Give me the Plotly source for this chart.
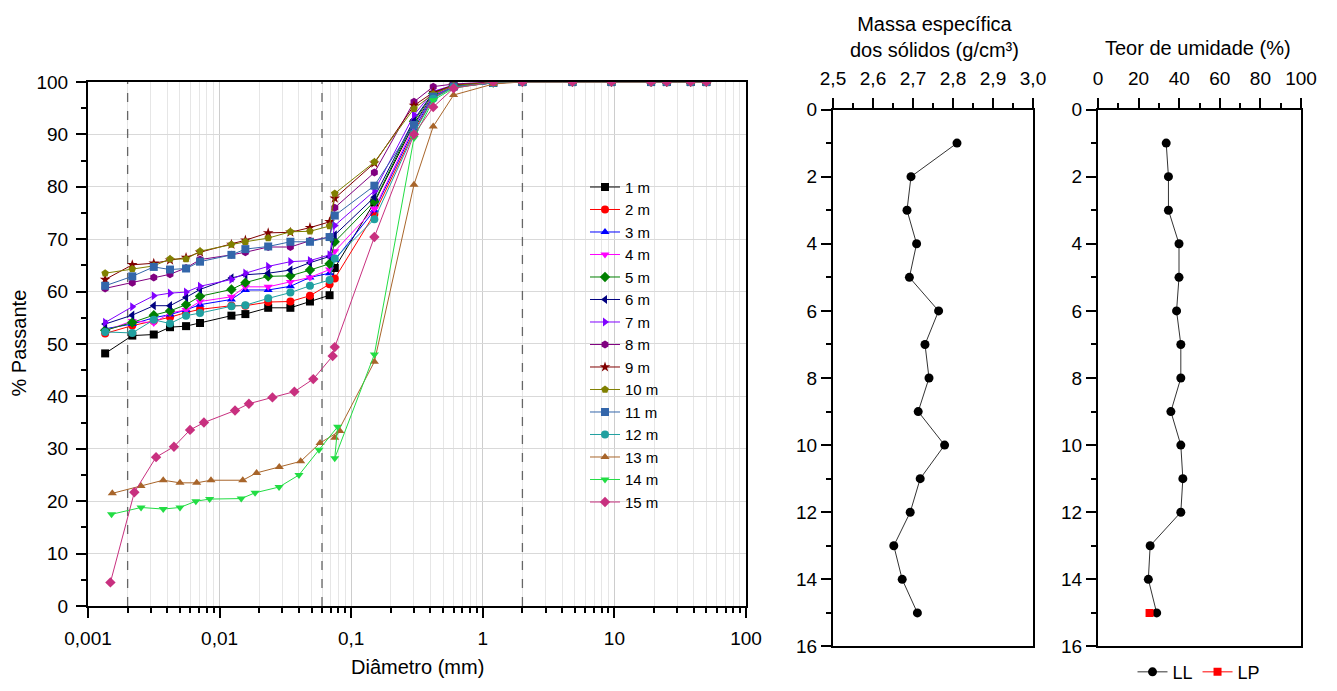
import plotly.graph_objects as go

# ---------------- DATA ----------------
series_names = ["1 m", "2 m", "3 m", "4 m", "5 m", "6 m", "7 m", "8 m",
                "9 m", "10 m", "11 m", "12 m", "13 m", "14 m", "15 m"]

sieve_d = [0.075, 0.15, 0.3, 0.42, 0.6, 1.2, 2.0, 4.8, 9.5, 19, 25, 38, 50]

hydro_d_upper = [0.00135, 0.00217, 0.00316, 0.0042, 0.00556, 0.0071,
                 0.0123, 0.0157, 0.0234, 0.0345, 0.0486, 0.0685]
hydro_d_13 = [0.00153, 0.00253, 0.00373, 0.0050, 0.0067, 0.0086,
              0.0150, 0.0191, 0.0284, 0.0413, 0.058, 0.082]
hydro_d_14 = [0.00151, 0.00253, 0.00373, 0.0050, 0.0066, 0.0084,
              0.0146, 0.0186, 0.0283, 0.0401, 0.0569, 0.0789]
hydro_d_15 = [0.00148, 0.00225, 0.00329, 0.0045, 0.00596, 0.0076,
              0.0131, 0.0167, 0.0252, 0.037, 0.0515, 0.0723]

hydro_p = {
    "1 m": [48.2, 51.6, 51.8, 53.2, 53.4, 54.0, 55.4, 55.7, 56.9, 56.9, 58.1, 59.3],
    "2 m": [52.0, 53.5, 54.4, 55.1, 56.0, 56.6, 57.3, 57.3, 58.0, 58.1, 59.2, 61.4],
    "3 m": [52.9, 53.8, 55.0, 55.6, 56.5, 57.5, 58.5, 60.3, 60.3, 61.0, 62.7, 63.5],
    "4 m": [52.5, 54.4, 54.0, 55.9, 56.5, 58.1, 59.0, 60.9, 60.9, 61.8, 62.7, 64.2],
    "5 m": [52.6, 54.1, 55.5, 56.3, 57.5, 59.1, 60.4, 61.7, 62.9, 63.0, 64.1, 65.3],
    "6 m": [53.8, 55.5, 57.3, 57.3, 58.9, 60.4, 62.6, 63.2, 63.5, 64.1, 65.5, 66.7],
    "7 m": [54.1, 57.1, 59.2, 59.7, 59.9, 61.0, 62.3, 63.5, 64.8, 65.7, 65.9, 67.0],
    "8 m": [60.6, 61.7, 62.7, 63.3, 64.5, 66.1, 67.0, 67.5, 68.5, 68.5, 69.7, 70.4],
    "9 m": [62.3, 65.1, 65.4, 66.0, 66.5, 67.5, 69.0, 69.8, 71.2, 71.3, 72.2, 73.3],
    "10 m": [63.5, 64.3, 64.9, 66.2, 66.2, 67.7, 69.0, 69.5, 70.2, 71.4, 71.5, 72.5],
    "11 m": [61.1, 62.9, 64.7, 64.2, 64.4, 65.7, 67.0, 68.1, 68.6, 69.5, 69.5, 70.4],
    "12 m": [52.3, 52.1, 54.6, 53.9, 55.4, 55.9, 57.2, 57.4, 58.7, 59.8, 61.1, 62.2],
    "13 m": [21.5, 22.9, 24.0, 23.5, 23.5, 24.0, 24.0, 25.4, 26.5, 27.6, 31.1, 33.4],
    "14 m": [17.5, 18.8, 18.5, 18.8, 20.0, 20.4, 20.5, 21.6, 22.7, 25.0, 29.8, 34.2],
    "15 m": [4.5, 21.7, 28.4, 30.4, 33.6, 35.0, 37.3, 38.6, 39.8, 40.9, 43.3, 47.7],
}

sieve_p = {
    "1 m": [64.5, 77.0, 92.0, 97.5, 99.2, 99.8, 100, 100, 100, 100, 100, 100, 100],
    "2 m": [62.5, 74.8, 90.5, 97.0, 99.0, 99.8, 100, 100, 100, 100, 100, 100, 100],
    "3 m": [66.0, 75.5, 91.0, 97.3, 99.1, 99.8, 100, 100, 100, 100, 100, 100, 100],
    "4 m": [67.7, 75.8, 91.5, 97.5, 99.2, 99.8, 100, 100, 100, 100, 100, 100, 100],
    "5 m": [69.5, 77.2, 92.5, 97.8, 99.3, 99.9, 100, 100, 100, 100, 100, 100, 100],
    "6 m": [70.8, 78.0, 92.8, 98.0, 99.3, 99.9, 100, 100, 100, 100, 100, 100, 100],
    "7 m": [72.6, 79.2, 93.7, 98.2, 99.4, 99.9, 100, 100, 100, 100, 100, 100, 100],
    "8 m": [76.0, 82.7, 96.2, 99.1, 99.6, 100, 100, 100, 100, 100, 100, 100, 100],
    "9 m": [77.8, 84.5, 95.5, 98.0, 99.4, 99.9, 100, 100, 100, 100, 100, 100, 100],
    "10 m": [78.7, 84.7, 94.9, 97.7, 99.3, 99.9, 100, 100, 100, 100, 100, 100, 100],
    "11 m": [74.5, 80.2, 91.8, 97.2, 99.1, 99.8, 100, 100, 100, 100, 100, 100, 100],
    "12 m": [66.3, 73.8, 90.2, 96.8, 99.0, 99.8, 100, 100, 100, 100, 100, 100, 100],
    "13 m": [32.1, 46.6, 80.4, 91.5, 97.5, 99.6, 100, 100, 100, 100, 100, 100, 100],
    "14 m": [28.2, 48.0, 89.3, 96.5, 98.8, 100, 100, 100, 100, 100, 100, 100, 100],
    "15 m": [49.4, 70.4, 90.0, 95.2, 98.8, 100, 100, 100, 100, 100, 100, 100, 100],
}

limit_d = [0.002, 0.06, 2.0]

x_tickvals = [0.001, 0.01, 0.1, 1, 10, 100]
x_ticktext = ["0,001", "0,01", "0,1", "1", "10", "100"]

depth = [1, 2, 3, 4, 5, 6, 7, 8, 9, 10, 11, 12, 13, 14, 15]
massa_especifica = [2.81, 2.695, 2.685, 2.709, 2.691, 2.764, 2.730, 2.740,
                    2.713, 2.779, 2.718, 2.693, 2.652, 2.673, 2.711]
teor_LL = [33.6, 34.7, 34.7, 39.9, 39.9, 38.7, 40.8, 40.8, 35.9, 40.8,
           41.8, 40.8, 25.7, 24.8, 28.9]
depth_LP = [15]
teor_LP = [25.4]

# ---------------- STYLE ----------------
colors = ["#000000", "#FF0000", "#0000FF", "#FF00FF", "#008000", "#000080",
          "#8000FF", "#800080", "#800000", "#808000", "#3366AA", "#20A0A0",
          "#A8652A", "#22DD44", "#C8307F"]
symbols = ["square", "circle", "triangle-up", "triangle-down", "diamond",
           "triangle-left", "triangle-right", "hexagon", "star", "pentagon",
           "square", "circle", "triangle-up", "triangle-down", "diamond"]

FONT = "Liberation Sans, Arial, sans-serif"
W, H = 1337, 691


def fx(p):
    return p / W


def fy(p):
    return (H - p) / H


def px_x(a, b):
    return [fx(a), fx(b)]


def px_y(top, bottom):
    return [fy(bottom), fy(top)]


fig = go.Figure()

# limit lines
for xd in limit_d:
    fig.add_trace(go.Scatter(x=[xd, xd], y=[0, 100], mode="lines",
                             line=dict(color="#666666", width=1.3, dash="dash"),
                             showlegend=False, hoverinfo="skip",
                             xaxis="x", yaxis="y"))

for i, name in enumerate(series_names):
    if name == "13 m":
        hd = hydro_d_13
    elif name == "14 m":
        hd = hydro_d_14
    elif name == "15 m":
        hd = hydro_d_15
    else:
        hd = hydro_d_upper
    xs = list(hd) + list(sieve_d)
    ys = list(hydro_p[name]) + list(sieve_p[name])
    fig.add_trace(go.Scatter(
        x=xs, y=ys, mode="lines+markers", name=name,
        line=dict(color=colors[i], width=1),
        marker=dict(symbol=symbols[i], color=colors[i], size=8,
                    line=dict(width=0)),
        xaxis="x", yaxis="y", legend="legend"))

# Massa específica
fig.add_trace(go.Scatter(x=massa_especifica, y=depth, mode="lines+markers",
                         line=dict(color="#333333", width=1),
                         marker=dict(symbol="circle", color="black", size=9),
                         showlegend=False, xaxis="x2", yaxis="y2"))

# Teor de umidade
fig.add_trace(go.Scatter(x=teor_LL, y=depth, mode="lines+markers", name="LL",
                         line=dict(color="#333333", width=1),
                         marker=dict(symbol="circle", color="black", size=9),
                         xaxis="x3", yaxis="y3", legend="legend2"))
fig.add_trace(go.Scatter(x=teor_LP, y=depth_LP, mode="lines+markers", name="LP",
                         line=dict(color="#FF0000", width=1),
                         marker=dict(symbol="square", color="#FF0000", size=8),
                         xaxis="x3", yaxis="y3", legend="legend2"))

tickfont = dict(family=FONT, size=19, color="black")
titlefont = dict(family=FONT, size=20, color="black")
minor_log = [m * 10 ** e for e in range(-3, 2) for m in range(2, 10)]

common_right = dict(ticks="outside", tickwidth=1.5, tickcolor="black",
                    showline=True, linecolor="black", linewidth=2, mirror=True,
                    showgrid=False, zeroline=False, tickfont=tickfont,
                    automargin=False)

fig.update_layout(
    width=W, height=H,
    margin=dict(l=0, r=0, t=0, b=0),
    paper_bgcolor="white", plot_bgcolor="white",
    separators=",.",
    font=dict(family=FONT, size=18, color="black"),
    xaxis=dict(type="log", range=[-3, 2], domain=px_x(88, 746), anchor="y",
               tickmode="array", tickvals=x_tickvals, ticktext=x_ticktext,
               ticks="outside", ticklen=10, tickwidth=1.5, tickcolor="black",
               ticklabelstandoff=4,
               showline=True, linecolor="black", linewidth=2, mirror=True,
               showgrid=True, gridcolor="#CDCDCD", gridwidth=1,
               minor=dict(tickvals=minor_log, ticks="outside", ticklen=5,
                          tickwidth=1.5, tickcolor="black",
                          showgrid=True, gridcolor="#E6E6E6", gridwidth=1),
               tickfont=tickfont, automargin=False, zeroline=False),
    yaxis=dict(range=[0, 100], domain=px_y(83, 614), anchor="x",
               tickmode="linear", tick0=0, dtick=10,
               ticks="outside", ticklen=10, tickwidth=1.5, tickcolor="black",
               ticklabelstandoff=4,
               showline=True, linecolor="black", linewidth=2, mirror=True,
               showgrid=True, gridcolor="#D9D9D9", gridwidth=1,
               minor=dict(dtick=5, ticks="outside", ticklen=5, tickwidth=1.5,
                          tickcolor="black", showgrid=False),
               tickfont=tickfont, automargin=False, zeroline=False),
    xaxis2=dict(range=[2.5, 3.0], domain=px_x(833, 1033), anchor="y2",
                side="top", tickmode="linear", tick0=2.5, dtick=0.1,
                tickformat=".1f", ticklen=10, ticklabelstandoff=5,
                minor=dict(dtick=0.05, ticks="outside", ticklen=5,
                           tickwidth=1.5, tickcolor="black"),
                **common_right),
    yaxis2=dict(range=[16, 0], domain=px_y(111, 655), anchor="x2",
                tickmode="linear", tick0=0, dtick=2, ticklen=10,
                minor=dict(dtick=1, ticks="outside", ticklen=5,
                           tickwidth=1.5, tickcolor="black"),
                **common_right),
    xaxis3=dict(range=[0, 100], domain=px_x(1098, 1301), anchor="y3",
                side="top", tickmode="linear", tick0=0, dtick=20,
                ticklen=10, ticklabelstandoff=5,
                minor=dict(dtick=10, ticks="outside", ticklen=5,
                           tickwidth=1.5, tickcolor="black"),
                **common_right),
    yaxis3=dict(range=[16, 0], domain=px_y(111, 655), anchor="x3",
                tickmode="linear", tick0=0, dtick=2, ticklen=10,
                minor=dict(dtick=1, ticks="outside", ticklen=5,
                           tickwidth=1.5, tickcolor="black"),
                **common_right),
    legend=dict(x=fx(585), y=fy(173), xanchor="left", yanchor="top",
                bgcolor="rgba(0,0,0,0)", borderwidth=0,
                font=dict(family=FONT, size=15, color="black"),
                tracegroupgap=0, itemwidth=30),
    legend2=dict(x=fx(1199), y=fy(681), xanchor="center",
                 yanchor="middle", orientation="h",
                 bgcolor="rgba(0,0,0,0)", borderwidth=0,
                 font=dict(family=FONT, size=18, color="black")),
    annotations=[
        dict(text="% Passante", x=fx(19), y=fy(348), xref="paper",
             yref="paper", textangle=-90, showarrow=False,
             xanchor="center", yanchor="middle", font=titlefont),
        dict(text="Diâmetro (mm)", x=fx(417), y=fy(676), xref="paper",
             yref="paper", showarrow=False, xanchor="center",
             yanchor="middle", font=titlefont),
        dict(text="Massa específica<br>dos sólidos (g/cm³)", x=fx(934),
             y=fy(37), xref="paper", yref="paper", showarrow=False,
             xanchor="center", yanchor="middle", font=titlefont),
        dict(text="Teor de umidade (%)", x=fx(1198), y=fy(49),
             xref="paper", yref="paper", showarrow=False,
             xanchor="center", yanchor="middle", font=titlefont),
    ],
)

page_fix = ("document.documentElement.style.margin='0';"
            "document.documentElement.style.overflow='hidden';"
            "document.body.style.margin='0';"
            "document.body.style.overflow='hidden';")

fig.write_html("out.html", post_script=page_fix,
               config={"displayModeBar": False})
